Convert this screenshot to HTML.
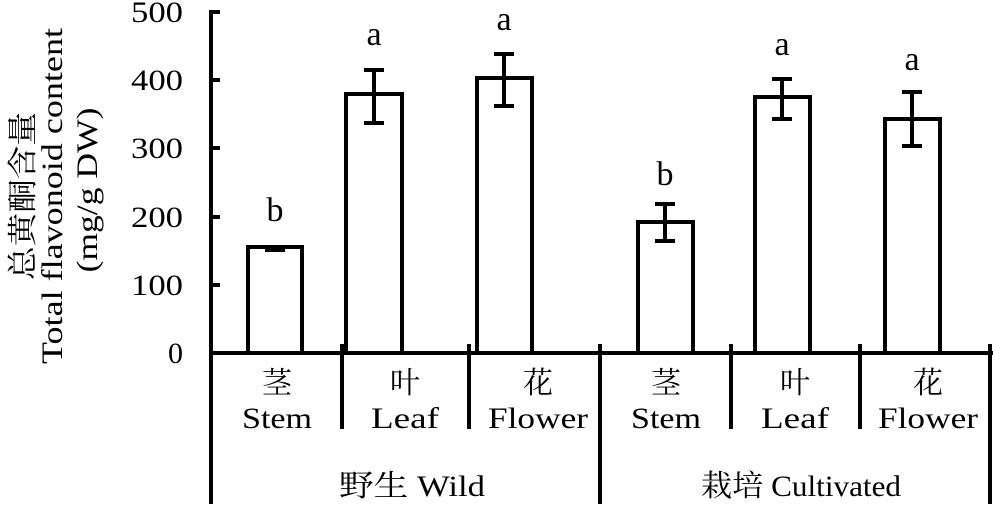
<!DOCTYPE html><html><head><style>body{margin:0;background:#fff}</style></head><body>
<svg width="993" height="504" viewBox="0 0 993 504" xmlns="http://www.w3.org/2000/svg" font-family="Liberation Serif, Noto Serif CJK SC, serif" fill="#000">
<g stroke="#000" stroke-width="4" fill="none">
<line x1="211" y1="10" x2="211" y2="504"/>
<line x1="209" y1="353" x2="993" y2="353"/>
<line x1="211" y1="12" x2="220" y2="12"/><line x1="211" y1="80" x2="220" y2="80"/><line x1="211" y1="148" x2="220" y2="148"/><line x1="211" y1="217" x2="220" y2="217"/><line x1="211" y1="285" x2="220" y2="285"/>
<line x1="342" y1="344" x2="342" y2="429"/><line x1="469" y1="344" x2="469" y2="429"/><line x1="600" y1="344" x2="600" y2="504"/>
<line x1="731" y1="344" x2="731" y2="429"/><line x1="860" y1="344" x2="860" y2="429"/><line x1="990" y1="344" x2="990" y2="504"/>
<rect x="248" y="247" width="54" height="106"/>
<rect x="346" y="94" width="56" height="259"/>
<rect x="477" y="78" width="55" height="275"/>
<rect x="638" y="222" width="55" height="131"/>
<rect x="755" y="97" width="55" height="256"/>
<rect x="885" y="119" width="55" height="234"/>
<path d="M265 250H285M374 70V123M364 70H384M364 123H384M504 54V106M494 54H514M494 106H514M665 204V241M655 204H675M655 241H675M782 79V119M772 79H792M772 119H792M912 92V146M902 92H922M902 146H922"/>
</g>
<g font-size="30" text-anchor="end">
<text x="183" y="22" textLength="52" lengthAdjust="spacingAndGlyphs">500</text><text x="183" y="90" textLength="52" lengthAdjust="spacingAndGlyphs">400</text><text x="183" y="158" textLength="52" lengthAdjust="spacingAndGlyphs">300</text><text x="183" y="227" textLength="52" lengthAdjust="spacingAndGlyphs">200</text><text x="183" y="295" textLength="52" lengthAdjust="spacingAndGlyphs">100</text><text x="183" y="363">0</text>
</g>
<g font-size="34" text-anchor="middle">
<text x="275" y="221">b</text><text x="374" y="45">a</text><text x="504" y="30">a</text><text x="665" y="185">b</text><text x="782" y="55">a</text><text x="912" y="70">a</text>
</g>
<g font-size="30" text-anchor="middle">
<text x="277" y="393">茎</text><text x="277" y="428" textLength="70" lengthAdjust="spacingAndGlyphs">Stem</text>
<text x="405" y="393">叶</text><text x="405" y="428" textLength="68" lengthAdjust="spacingAndGlyphs">Leaf</text>
<text x="538" y="393">花</text><text x="538" y="428" textLength="100" lengthAdjust="spacingAndGlyphs">Flower</text>
<text x="666" y="393">茎</text><text x="666" y="428" textLength="70" lengthAdjust="spacingAndGlyphs">Stem</text>
<text x="795" y="393">叶</text><text x="795" y="428" textLength="68" lengthAdjust="spacingAndGlyphs">Leaf</text>
<text x="928" y="393">花</text><text x="928" y="428" textLength="100" lengthAdjust="spacingAndGlyphs">Flower</text>
<text x="412" y="496" textLength="146" lengthAdjust="spacingAndGlyphs">野生 Wild</text>
<text x="801" y="496" textLength="200" lengthAdjust="spacingAndGlyphs">栽培 Cultivated</text>
<g transform="rotate(-90)">
<text x="-196" y="33" textLength="168" lengthAdjust="spacingAndGlyphs">总黄酮含量</text>
<text x="-196" y="62" textLength="336" lengthAdjust="spacingAndGlyphs">Total flavonoid content</text>
<text x="-190" y="97" textLength="165" lengthAdjust="spacingAndGlyphs">(mg/g DW)</text>
</g>
</g>
</svg></body></html>
